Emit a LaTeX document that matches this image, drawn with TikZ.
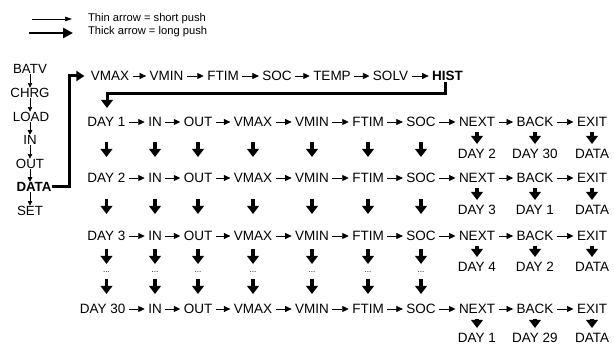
\documentclass[tikz,border=0pt]{standalone}
\usepackage{fontspec}
\setmainfont{Liberation Sans}
\usetikzlibrary{arrows.meta}
\begin{document}
\begin{tikzpicture}[x=1pt,y=-1pt,
  lbl/.style={font=\fontsize{13.5}{14}\selectfont, inner sep=1.5pt, outer sep=0pt},
  leglbl/.style={font=\fontsize{11.2}{11}\selectfont, inner sep=1pt, outer sep=0pt},
  side/.style={font=\fontsize{13.3}{13}\selectfont, inner sep=0.5pt, outer sep=0pt},
  dotslbl/.style={font=\fontsize{8}{8}\selectfont, inner sep=0pt},
  thinarr/.style={-{Triangle[width=6pt,length=6.5pt]}, line width=0.7pt, shorten <=2pt, shorten >=2pt},
  vthinarr/.style={-{Triangle[width=4.5pt,length=4.5pt]}, line width=0.6pt, shorten <=0.2pt, shorten >=0.2pt},
  thickarr/.style={-{Triangle[width=11.5pt,length=8pt]}, line width=3.2pt},
  thickline/.style={line width=3pt, line join=miter},
]
\useasboundingbox (0,0) rectangle (614,347);

% legend
\coordinate (l1s) at (32,19); \coordinate (l1e) at (72,19);
\coordinate (l2s) at (29,33); \coordinate (l2e) at (73,33);
\draw[-{Triangle[width=4.5pt,length=7pt]}, line width=0.6pt] (l1s) -- (l1e);
\draw[-{Triangle[width=10pt,length=10pt]}, line width=2.6pt] (l2s) -- (l2e);
\node[leglbl, anchor=west] (leg1) at (87,19) {Thin arrow = short push};
\node[leglbl, anchor=west] (leg2) at (87,32) {Thick arrow = long push};

% left menu column
\node[side] (m1) at (30,69) {BATV};
\node[side] (m2) at (30,93) {CHRG};
\node[side] (m3) at (31,117) {LOAD};
\node[side] (m4) at (30,140) {IN};
\node[side] (m5) at (30,164) {OUT};
\node[side] (m6) at (34,187) {\bfseries DATA};
\node[side] (m7) at (30,211) {SET};
\foreach \i [evaluate=\i as \k using int(\i+1)] in {1,...,6}
  \draw[vthinarr] (m\i.south -| m1) -- (m\k.north -| m1);

% top row
\foreach \j/\x/\t in {1/110/VMAX, 2/166.5/VMIN, 3/223/FTIM, 4/277/SOC, 5/332/TEMP, 6/390.5/SOLV}
  \node[lbl] (t\j) at (\x,76) {\t};
\node[lbl] (t7) at (447.5,76) {\bfseries HIST};
\foreach \j [evaluate=\j as \k using int(\j+1)] in {1,...,6}
  \draw[thinarr] (t\j) -- (t\k);

% thick connectors
\coordinate (k1) at (69,76);
\draw[thickline, -{Triangle[width=10pt,length=8pt]}, shorten >=5pt] (m6.east) -| (k1) -- (t1.west);
\coordinate (hc) at (107,94);
\coordinate (ht) at (107,108);
\draw[thickline, -{Triangle[width=11.5pt,length=8pt]}] ([xshift=-2pt]t7.south) |- (hc) -- (ht);

% grid rows
\foreach \ri/\y/\d in {1/122/1, 2/178/2, 3/236/3, 4/309/30} {
  \node[lbl, anchor=east] (r\ri c0) at (127,\y) {DAY \d};
  \foreach \j/\x/\t in {1/155/IN, 2/198/OUT, 3/253/VMAX, 4/312/VMIN, 5/368/FTIM, 6/421/SOC, 7/477/NEXT, 8/535/BACK, 9/592/EXIT}
    \node[lbl] (r\ri c\j) at (\x,\y) {\t};
  \foreach \j [evaluate=\j as \k using int(\j+1)] in {0,...,8}
    \draw[thinarr] (r\ri c\j) -- (r\ri c\k);
}

% sub labels under NEXT / BACK / EXIT
\foreach \ri/\y/\a/\b in {1/154/2/30, 2/210/3/1, 3/267/4/2, 4/338/1/29} {
  \node[lbl] (s\ri c7) at (477,\y) {DAY \a};
  \node[lbl] (s\ri c8) at (535,\y) {DAY \b};
  \node[lbl] (s\ri c9) at (592,\y) {DATA};
  \foreach \j in {7,8,9}
    \draw[thickarr, shorten <=10.5pt, shorten >=10pt] (r\ri c\j.center) -- (s\ri c\j.center);
}

% thick vertical arrows between rows
\foreach \j in {0,...,6} {
  \draw[thickarr, shorten <=20pt, shorten >=21pt] (r1c\j.center) -- (r2c\j.center);
  \draw[thickarr, shorten <=21pt, shorten >=22pt] (r2c\j.center) -- (r3c\j.center);
}
\coordinate (dotsrow) at (0,272);
\foreach \j in {0,...,6} {
  \node[dotslbl] (d\j) at (r3c\j.center |- dotsrow) {...};
  \draw[thickarr, shorten <=13pt, shorten >=8pt] (r3c\j.center) -- (d\j.center);
  \draw[thickarr, shorten <=7pt, shorten >=15pt] (d\j.center) -- (d\j.center |- r4c\j.center);
}
\end{tikzpicture}
\end{document}
